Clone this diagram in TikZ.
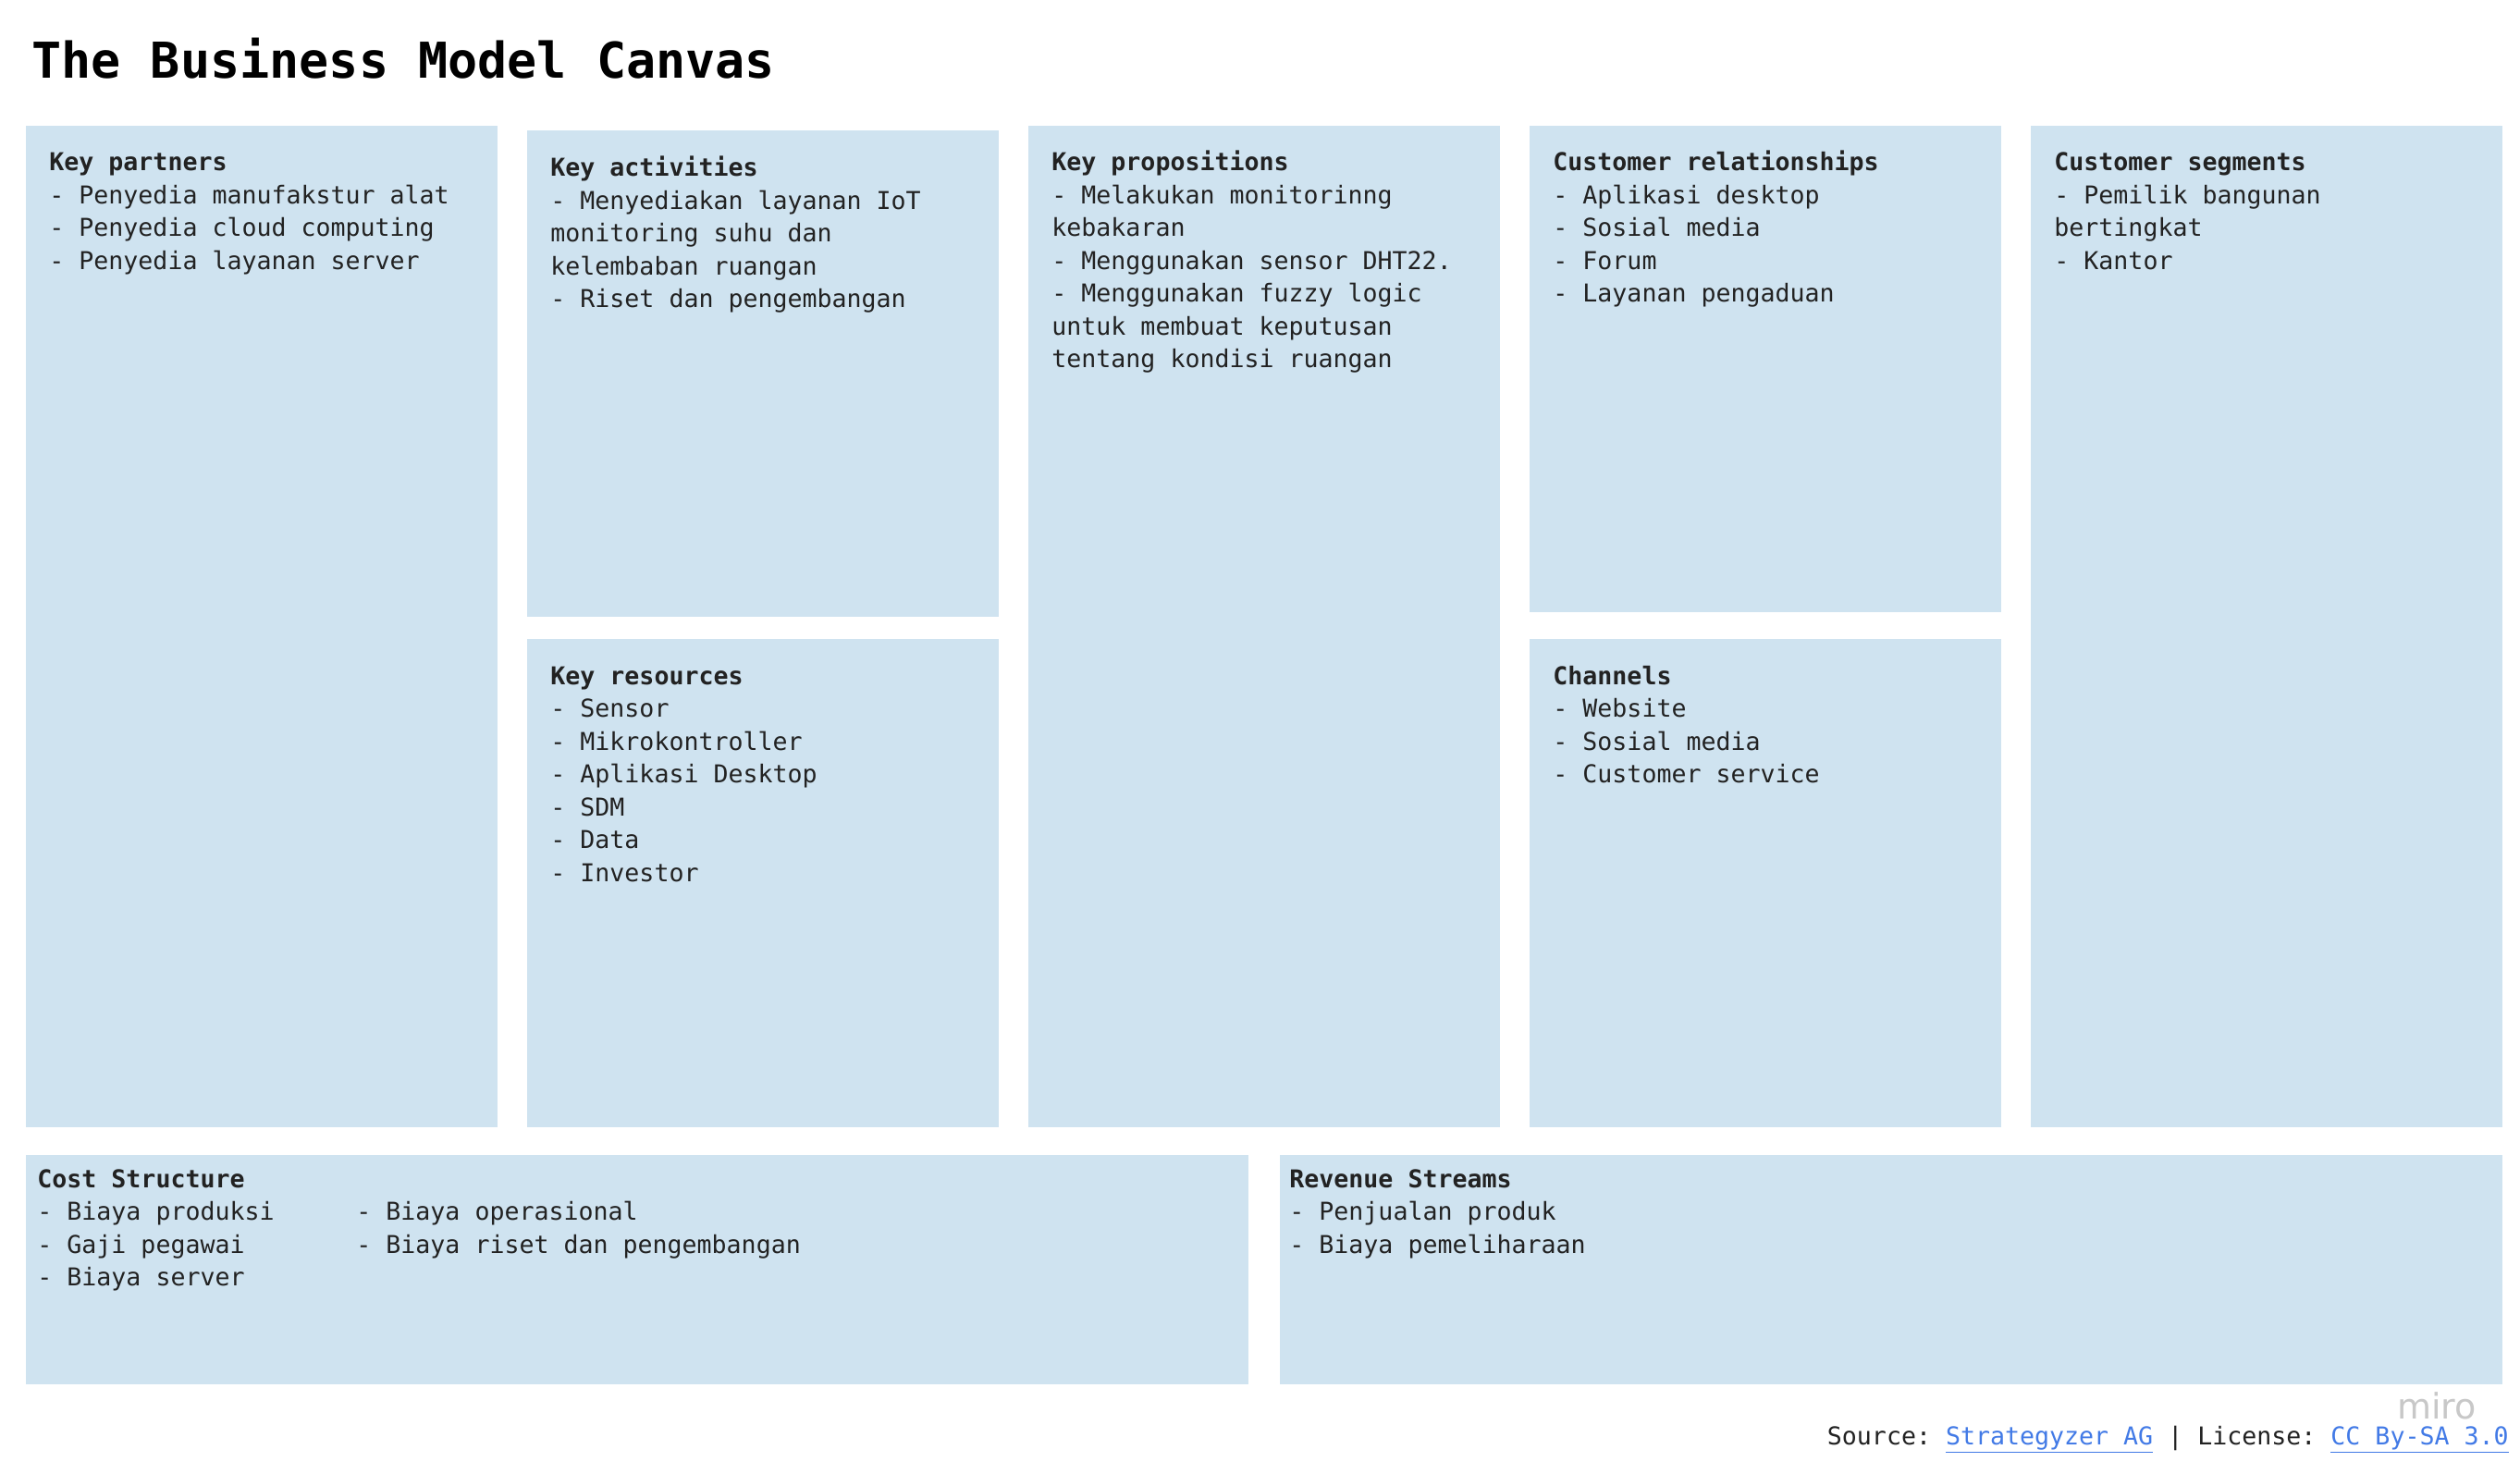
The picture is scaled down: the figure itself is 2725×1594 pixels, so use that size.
\documentclass[tikz,border=0pt]{standalone}
\usepackage{fontspec}
\setmonofont{DejaVu Sans Mono}
\newfontfamily\miroFont{DejaVu Sans}
\definecolor{bmcblue}{RGB}{207,227,240}
\definecolor{bmctext}{RGB}{34,34,34}
\definecolor{bmclink}{RGB}{66,122,230}
\definecolor{mirogray}{RGB}{200,200,200}
\newcommand\bmclines[1]{\vtop{\baselineskip=17.75pt\lineskiplimit=-100pt\lineskip=0pt\halign{##\hfil\cr#1\crcr}}}
\tikzset{
  bmcbox/.style={fill=bmcblue},
  bmctxt/.style={anchor=base west, inner sep=0pt, text=bmctext,
    font=\ttfamily\fontsize{13.3}{17.75}\selectfont},
}
\begin{document}
\begin{tikzpicture}[x=0.5pt,y=-0.5pt]
\useasboundingbox[fill=white] (0,0) rectangle (2725,1594);
% title
\node[anchor=base west, inner sep=0pt, text=black,
  font=\ttfamily\bfseries\fontsize{26.7}{30}\selectfont] (title) at (34,85) {The Business Model Canvas};
% boxes
\path[bmcbox] (28,136) rectangle (538,1219);
\path[bmcbox] (570,141) rectangle (1080,667);
\path[bmcbox] (570,691) rectangle (1080,1219);
\path[bmcbox] (1112,136) rectangle (1622,1219);
\path[bmcbox] (1654,136) rectangle (2164,662);
\path[bmcbox] (1654,691) rectangle (2164,1219);
\path[bmcbox] (2196,136) rectangle (2706,1219);
\path[bmcbox] (28,1249) rectangle (1350,1497);
\path[bmcbox] (1384,1249) rectangle (2706,1497);
% texts
\node[bmctxt] (kp) at (53,185) {\bmclines{\textbf{Key partners}\cr
- Penyedia manufakstur alat\cr
- Penyedia cloud computing\cr
- Penyedia layanan server}};
\node[bmctxt] (ka) at (595,191) {\bmclines{\textbf{Key activities}\cr
- Menyediakan layanan IoT\cr
monitoring suhu dan\cr
kelembaban ruangan\cr
- Riset dan pengembangan}};
\node[bmctxt] (kr) at (595,740) {\bmclines{\textbf{Key resources}\cr
- Sensor\cr
- Mikrokontroller\cr
- Aplikasi Desktop\cr
- SDM\cr
- Data\cr
- Investor}};
\node[bmctxt] (vp) at (1137,185) {\bmclines{\textbf{Key propositions}\cr
- Melakukan monitorinng\cr
kebakaran\cr
- Menggunakan sensor DHT22.\cr
- Menggunakan fuzzy logic\cr
untuk membuat keputusan\cr
tentang kondisi ruangan}};
\node[bmctxt] (cr) at (1679,185) {\bmclines{\textbf{Customer relationships}\cr
- Aplikasi desktop\cr
- Sosial media\cr
- Forum\cr
- Layanan pengaduan}};
\node[bmctxt] (ch) at (1679,740) {\bmclines{\textbf{Channels}\cr
- Website\cr
- Sosial media\cr
- Customer service}};
\node[bmctxt] (cs) at (2221,185) {\bmclines{\textbf{Customer segments}\cr
- Pemilik bangunan\cr
bertingkat\cr
- Kantor}};
\node[bmctxt] (cost) at (40,1284) {\bmclines{\textbf{Cost Structure}\cr
- Biaya produksi\cr
- Gaji pegawai\cr
- Biaya server}};
\node[bmctxt] (costb) at (385,1319.75) {\bmclines{- Biaya operasional\cr
- Biaya riset dan pengembangan}};
\node[bmctxt] (rev) at (1394,1284) {\bmclines{\textbf{Revenue Streams}\cr
- Penjualan produk\cr
- Biaya pemeliharaan}};
% footer
\node[anchor=base east, inner sep=0pt, text=mirogray,
  font=\miroFont\fontsize{19}{22}\selectfont] (miro) at (2678,1534) {miro};
\node[anchor=base east, inner sep=0pt, text=bmctext,
  font=\ttfamily\fontsize{13.3}{16}\selectfont] (source) at (2713,1562)
  {Source: \textcolor{bmclink}{\underline{Strategyzer AG}} | License: \textcolor{bmclink}{\underline{CC By-SA 3.0}}};
\end{tikzpicture}
\end{document}
